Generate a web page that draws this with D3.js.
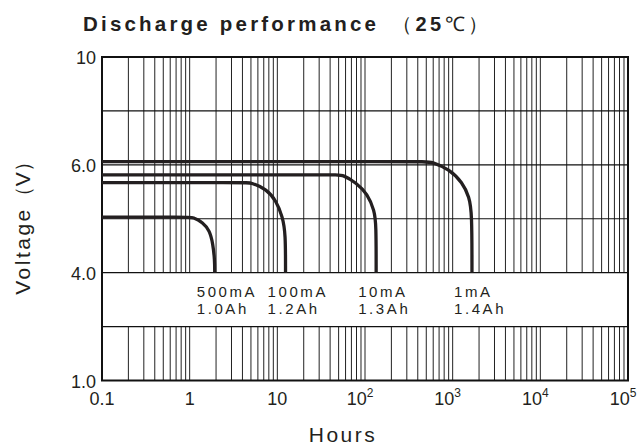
<!DOCTYPE html>
<html>
<head>
<meta charset="utf-8">
<script src="https://cdn.jsdelivr.net/npm/d3@7"></script>
<style>
body { margin: 0; background: #fff; }
svg text { font-family: "Liberation Sans", Arial, sans-serif; fill: #231f20; }
</style>
</head>
<body>
<svg id="chart" width="638" height="447"></svg>
<script>

// discharge curves (hours, volts)
var series_names = ["500mA", "100mA", "10mA", "1mA"];
var series_capacity = ["1.0Ah", "1.2Ah", "1.3Ah", "1.4Ah"];

var hours_500 = [0.1, 0.95, 1.09, 1.42, 1.69, 1.84, 1.93, 1.93];
var volts_500 = [5.03, 5.03, 5.03, 4.93, 4.78, 4.54, 4.23, 4.0];

var hours_100 = [0.1, 4.4, 5.04, 7.48, 9.71, 11.5, 12.4, 12.4];
var volts_100 = [5.67, 5.67, 5.67, 5.55, 5.335, 5.03, 4.73, 4.0];

var hours_10 = [0.1, 48, 55.7, 79.2, 107, 128, 134, 134];
var volts_10 = [5.815, 5.815, 5.815, 5.67, 5.46, 5.15, 4.9, 4.0];

var hours_1 = [0.1, 490, 566, 915, 1297, 1545, 1660, 1660];
var volts_1 = [6.12, 6.12, 6.12, 5.92, 5.67, 5.4, 5.12, 4.0];

var x_tick_values = [0.1, 1, 10, 100, 1000, 10000, 100000];
var x_tick_base = ["0.1", "1", "10", "10", "10", "10", "10"];
var x_tick_exp = ["", "", "", "2", "3", "4", "5"];

// the voltage axis is not linear: each grid step is a fixed height
var y_grid_values = [1, 2.5, 4, 5, 6, 8, 10];
var y_tick_values = [1, 4, 6, 10];
var y_tick_labels = ["1.0", "4.0", "6.0", "10"];

var svg = d3.select("#chart");

var margin = {top: 57, right: 10, bottom: 66.5, left: 102};
var width = 638 - margin.left - margin.right;
var height = 447 - margin.top - margin.bottom;

var x = d3.scaleLog().domain([0.1, 100000]).range([0, width]);

var y = d3.scaleLinear()
    .domain(y_grid_values)
    .range(y_grid_values.map(function(d, i) {
	return height - i * height / (y_grid_values.length - 1);
    }));

var g = svg.append("g")
    .attr("transform", "translate(" + margin.left + "," + margin.top + ")");

// vertical grid, with a blank band between 2.5 and 4.0 for the labels
var grid_x = x.ticks();

g.selectAll(".vgrid-top")
    .data(grid_x)
    .enter().append("line")
    .attr("x1", x).attr("x2", x)
    .attr("y1", y(10)).attr("y2", y(4))
    .attr("stroke", "#222")
    .attr("stroke-width", 1);

g.selectAll(".vgrid-bottom")
    .data(grid_x)
    .enter().append("line")
    .attr("x1", x).attr("x2", x)
    .attr("y1", y(2.5)).attr("y2", y(1))
    .attr("stroke", "#222")
    .attr("stroke-width", 1);

g.selectAll(".hgrid")
    .data(y_grid_values)
    .enter().append("line")
    .attr("x1", 0).attr("x2", width)
    .attr("y1", y).attr("y2", y)
    .attr("stroke", "#111")
    .attr("stroke-width", 1.2);

// frame
g.append("rect")
    .attr("x", 0).attr("y", 0)
    .attr("width", width).attr("height", height)
    .attr("fill", "none")
    .attr("stroke", "#111")
    .attr("stroke-width", 2);

var series = [
    {name: series_names[0], cap: series_capacity[0], h: hours_500, v: volts_500},
    {name: series_names[1], cap: series_capacity[1], h: hours_100, v: volts_100},
    {name: series_names[2], cap: series_capacity[2], h: hours_10, v: volts_10},
    {name: series_names[3], cap: series_capacity[3], h: hours_1, v: volts_1}
];

var line = d3.line()
    .curve(d3.curveBasis)
    .x(function(d) { return x(d[0]); })
    .y(function(d) { return y(d[1]); });

g.selectAll(".curve")
    .data(series)
    .enter().append("path")
    .attr("d", function(s) { return line(d3.zip(s.h, s.v)); })
    .attr("fill", "none")
    .attr("stroke", "#231f20")
    .attr("stroke-width", 3.3);

// labels under each curve end
var labels = g.selectAll(".label")
    .data(series)
    .enter().append("text")
    .attr("font-size", 15)
    .attr("letter-spacing", 2.6);

labels.append("tspan")
    .attr("x", function(s) { return x(s.h[s.h.length - 1]) - 18; })
    .attr("y", y(4) + 24)
    .text(function(s) { return s.name; });

labels.append("tspan")
    .attr("x", function(s) { return x(s.h[s.h.length - 1]) - 18; })
    .attr("y", y(4) + 41.5)
    .text(function(s) { return s.cap; });

// y ticks
g.selectAll(".ytick")
    .data(y_tick_values)
    .enter().append("text")
    .attr("x", -6)
    .attr("y", function(d) { return y(d) + 7; })
    .attr("text-anchor", "end")
    .attr("font-size", 18)
    .text(function(d, i) { return y_tick_labels[i]; });

// x ticks, the powers of ten sit a little left of their line
var xt = g.selectAll(".xtick")
    .data(x_tick_values)
    .enter().append("text")
    .attr("x", function(d) { return x(d); })
    .attr("dx", function(d, i) { return x_tick_exp[i] ? -5 : 0; })
    .attr("y", height + 24)
    .attr("text-anchor", "middle")
    .attr("font-size", 18);

xt.append("tspan")
    .text(function(d, i) { return x_tick_base[i]; });

xt.append("tspan")
    .attr("dy", -8)
    .attr("font-size", 12)
    .text(function(d, i) { return x_tick_exp[i]; });

// axis titles
svg.append("text")
    .attr("x", 343)
    .attr("y", 442)
    .attr("text-anchor", "middle")
    .attr("font-size", 21)
    .attr("letter-spacing", 2.5)
    .text("Hours");

var ylab = svg.append("text")
    .attr("transform", "translate(30,223) rotate(-90)")
    .attr("text-anchor", "middle")
    .attr("font-size", 21);

ylab.append("tspan").attr("letter-spacing", 2.5).text("Voltage");
ylab.append("tspan").text("（V）");

svg.append("text")
    .attr("x", 83)
    .attr("y", 31)
    .attr("font-size", 20.5)
    .attr("font-weight", "bold")
    .attr("letter-spacing", 3.2)
    .text("Discharge performance");

var title_unit = svg.append("text")
    .attr("x", 392)
    .attr("y", 31)
    .attr("font-size", 20)
    .attr("letter-spacing", 3.5);

title_unit.append("tspan").text("（");
title_unit.append("tspan").attr("font-weight", "bold").text("25");
title_unit.append("tspan").text("℃）");

</script>
</body>
</html>
